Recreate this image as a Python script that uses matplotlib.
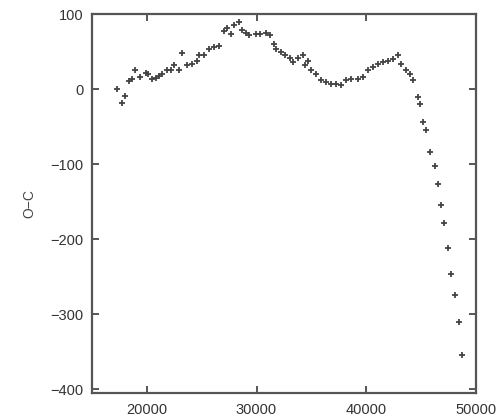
import matplotlib.pyplot as plt

# O-C residuals
epoch = [17270, 17730, 18000, 18360, 18640, 18910, 19360, 19910, 20090, 20450,
         20820, 21090, 21360, 21820, 22180, 22450, 22910, 23180, 23640, 24090,
         24550, 24730, 25180, 25640, 26090, 26550, 27000, 27270, 27640, 27910,
         28360, 28640, 29000, 29270, 29910, 30360, 30820, 31270, 31550, 31820,
         32270, 32640, 33090, 33360, 33820, 34270, 34450, 34730, 35000, 35450,
         35910, 36360, 36820, 37270, 37730, 38180, 38640, 39270, 39730, 40180,
         40640, 41090, 41550, 42000, 42450, 42910, 43180, 43640, 44000, 44270,
         44730, 44910, 45180, 45450, 45820, 46270, 46550, 46820, 47090, 47450,
         47730, 48090, 48450, 48730]
o_c = [0, -18, -9, 11, 13, 25, 16, 22, 20, 13,
       15, 17, 20, 25, 26, 32, 26, 48, 32, 34,
       37, 45, 46, 53, 56, 58, 78, 82, 73, 85,
       89, 79, 75, 72, 73, 73, 75, 72, 60, 53,
       49, 46, 42, 36, 42, 45, 32, 38, 25, 20,
       12, 9, 7, 7, 5, 12, 13, 13, 16, 25,
       29, 33, 36, 38, 40, 46, 33, 25, 20, 12,
       -11, -20, -44, -54, -84, -102, -126, -155, -179, -212,
       -246, -274, -311, -354]

xticks = [20000, 30000, 40000, 50000]
yticks = [100, 0, -100, -200, -300, -400]

ink = "#3a3a3a"
plt.rcParams["font.family"] = ["Liberation Sans", "DejaVu Sans"]

fig = plt.figure(figsize=(5.03, 4.18), dpi=100)
ax = fig.add_axes([0.183, 0.060, 0.763, 0.906])

ax.plot(epoch, o_c, linestyle="none", marker="+", markersize=3.8,
        markeredgewidth=1.3, color="#444")

ax.set_xlim(15000, 50000)
ax.set_ylim(-405, 100)
ax.set_xticks(xticks)
ax.set_yticks(yticks)
ax.tick_params(direction="in", length=5, width=1.2, colors=ink,
               labelcolor="#333", labelsize=10.5, top=True, right=True)
ax.tick_params(axis="x", pad=7)
ax.tick_params(axis="y", pad=6)
ax.set_yticklabels([str(v).replace("-", "\u2212") for v in yticks])
for s in ax.spines.values():
    s.set_color("#555")
    s.set_linewidth(1.6)

ax.set_ylabel("O\u2212C", fontsize=10, color="#444", labelpad=10)

fig.savefig("out.png", dpi=100)
